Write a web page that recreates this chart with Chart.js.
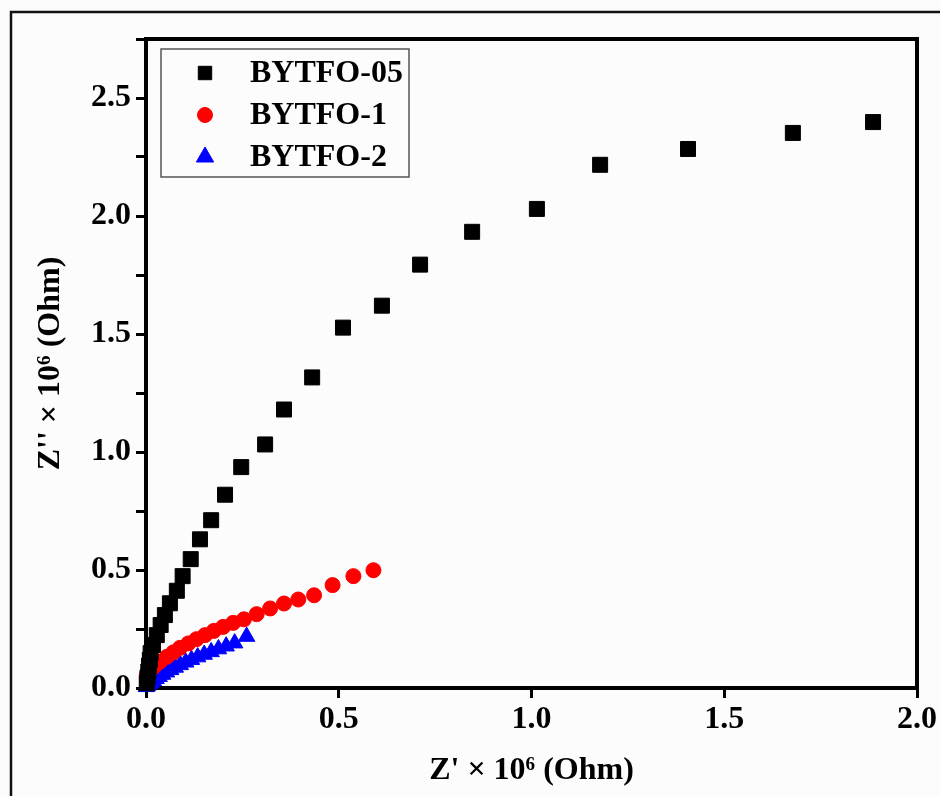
<!DOCTYPE html>
<html>
<head>
<meta charset="utf-8">
<script src="https://cdn.jsdelivr.net/npm/chart.js@4/dist/chart.umd.min.js"></script>
<style>
  html, body { margin: 0; padding: 0; background: #fcfcfc; }
  #wrap { width: 940px; height: 796px; }
</style>
</head>
<body>
<div id="wrap"><canvas id="nyquist" width="940" height="796"></canvas></div>
<script>
"use strict";

// Z' and Z'' (x 10^6 Ohm)
var bytfo05X = [0.002, 0.004, 0.006, 0.008, 0.010, 0.012, 0.018, 0.028, 0.038, 0.049, 0.062, 0.080, 0.095,
    0.116, 0.140, 0.169, 0.205, 0.247, 0.309, 0.358, 0.431, 0.511, 0.612, 0.711, 0.846, 1.014, 1.178, 1.406, 1.678, 1.886];
var bytfo05Y = [0.020, 0.045, 0.070, 0.095, 0.120, 0.148, 0.182, 0.224, 0.267, 0.309, 0.359, 0.412, 0.474,
    0.546, 0.630, 0.711, 0.819, 0.936, 1.032, 1.180, 1.316, 1.527, 1.620, 1.794, 1.933, 2.030, 2.217, 2.284, 2.352, 2.398];

var bytfo1X = [0.002, 0.005, 0.009, 0.021, 0.036, 0.054, 0.071, 0.088, 0.110, 0.131, 0.153, 0.176, 0.200,
    0.226, 0.254, 0.287, 0.322, 0.358, 0.395, 0.436, 0.484, 0.538, 0.590];
var bytfo1Y = [0.055, 0.064, 0.072, 0.090, 0.111, 0.132, 0.151, 0.170, 0.189, 0.207, 0.224, 0.242, 0.259,
    0.276, 0.291, 0.313, 0.337, 0.358, 0.375, 0.393, 0.436, 0.474, 0.499];

var bytfo2X = [0.001, 0.004, 0.008, 0.013, 0.019, 0.026, 0.034, 0.043, 0.053, 0.064, 0.076, 0.089, 0.103,
    0.118, 0.134, 0.151, 0.169, 0.188, 0.208, 0.230, 0.261];
var bytfo2Y = [0.005, 0.010, 0.016, 0.022, 0.030, 0.039, 0.048, 0.057, 0.067, 0.077, 0.087, 0.098, 0.109,
    0.120, 0.131, 0.142, 0.153, 0.165, 0.177, 0.190, 0.218];

var seriesNames = ["BYTFO-05", "BYTFO-1", "BYTFO-2"];
var xTicks = [0, 0.5, 1.0, 1.5, 2.0];
var yMax = 2.75;

function toPoints(xs, ys) {
    return xs.map(function (x, i) { return { x: x, y: ys[i] }; });
}

var serif = "'Liberation Serif', 'Times New Roman', serif";

// background + outer frame + top/right plot border
var framePlugin = {
    id: "frame",
    beforeDraw: function (chart) {
        var ctx = chart.ctx;
        ctx.save();
        ctx.fillStyle = "#fcfcfc";
        ctx.fillRect(0, 0, chart.width, chart.height);
        ctx.strokeStyle = "#111";
        ctx.lineWidth = 2.5;
        ctx.strokeRect(11, 12, 1000, 1000);
        ctx.restore();
    },
    afterDraw: function (chart) {
        var a = chart.chartArea;
        var ctx = chart.ctx;
        ctx.save();
        ctx.strokeStyle = "#000";
        ctx.lineWidth = 4;
        ctx.beginPath();
        ctx.moveTo(a.left - 2, a.top);
        ctx.lineTo(a.right, a.top);
        ctx.lineTo(a.right, a.bottom + 2);
        ctx.stroke();
        ctx.restore();
    }
};

// boxed legend inside the plot, top-left
var boxLegend = {
    id: "boxLegend",
    afterDraw: function (chart) {
        var ctx = chart.ctx;
        var a = chart.chartArea;
        var x0 = a.left + 15, y0 = a.top + 10, w = 248, h = 128;
        ctx.save();
        ctx.strokeStyle = "#555";
        ctx.lineWidth = 1.5;
        ctx.strokeRect(x0, y0, w, h);
        chart.data.datasets.forEach(function (ds, i) {
            var cy = y0 + 24 + i * 42;
            ctx.fillStyle = ds.backgroundColor;
            ctx.strokeStyle = ds.borderColor;
            ctx.lineWidth = 1;
            Chart.helpers.drawPoint(ctx, {
                pointStyle: ds.pointStyle,
                radius: ds.legendRadius,
                borderWidth: 1
            }, x0 + 44, cy);
            ctx.fillStyle = "#000";
            ctx.font = "bold 32px " + serif;
            ctx.textBaseline = "middle";
            ctx.textAlign = "left";
            ctx.fillText(ds.label, x0 + 89, cy + 1);
        });
        ctx.restore();
    }
};

var ctx = document.getElementById("nyquist");
var chart = new Chart(ctx, {
    type: "scatter",
    data: {
        datasets: [{
            label: seriesNames[0],
            data: toPoints(bytfo05X, bytfo05Y),
            pointStyle: "rect",
            pointRadius: 10.6,
            legendRadius: 9.5,
            backgroundColor: "#000000",
            borderColor: "#000000",
            borderWidth: 1,
            clip: 12
        }, {
            label: seriesNames[1],
            data: toPoints(bytfo1X, bytfo1Y),
            pointStyle: "circle",
            pointRadius: 7.5,
            legendRadius: 7.5,
            backgroundColor: "#ff0000",
            borderColor: "#ff0000",
            borderWidth: 1,
            clip: 12
        }, {
            label: seriesNames[2],
            data: toPoints(bytfo2X, bytfo2Y),
            pointStyle: "triangle",
            pointRadius: 9.5,
            legendRadius: 10,
            backgroundColor: "#0000ff",
            borderColor: "#0000ff",
            borderWidth: 1,
            clip: 12
        }]
    },
    options: {
        responsive: false,
        animation: false,
        events: [],
        layout: { padding: { left: 0, top: 39, right: 23, bottom: 0 } },
        plugins: {
            legend: { display: false },
            tooltip: { enabled: false }
        },
        scales: {
            x: {
                type: "linear",
                min: xTicks[0],
                max: xTicks[xTicks.length - 1],
                afterBuildTicks: function (scale) {
                    scale.ticks = xTicks.map(function (v) { return { value: v }; });
                },
                afterFit: function (scale) { scale.height = 108; },
                border: { display: true, color: "#000", width: 4 },
                grid: { drawOnChartArea: false, drawTicks: true, tickLength: 10, tickWidth: 3, tickColor: "#000" },
                ticks: {
                    color: "#000",
                    padding: 3,
                    font: { family: serif, size: 32, weight: "bold" },
                    callback: function (v) { return Number(v).toFixed(1); }
                },
                title: {
                    display: true,
                    text: "Z' \u00d7 10\u2076 (Ohm)",
                    color: "#000",
                    padding: { top: 0, bottom: 6 },
                    font: { family: serif, size: 32, weight: "bold" }
                }
            },
            y: {
                type: "linear",
                min: 0,
                max: yMax,
                afterFit: function (scale) { scale.width = 146; },
                border: { display: true, color: "#000", width: 4 },
                grid: { drawOnChartArea: false, drawTicks: true, tickLength: 10, tickWidth: 3, tickColor: "#000" },
                ticks: {
                    stepSize: 0.25,
                    color: "#000",
                    padding: 5,
                    font: { family: serif, size: 32, weight: "bold" },
                    callback: function (v) {
                        return Math.abs(v * 2 - Math.round(v * 2)) < 1e-6 ? Number(v).toFixed(1) : "";
                    }
                },
                title: {
                    display: true,
                    text: "Z'' \u00d7 10\u2076 (Ohm)",
                    color: "#000",
                    padding: { top: 32, bottom: 0 },
                    font: { family: serif, size: 32, weight: "bold" }
                }
            }
        }
    },
    plugins: [framePlugin, boxLegend]
});
</script>
</body>
</html>
